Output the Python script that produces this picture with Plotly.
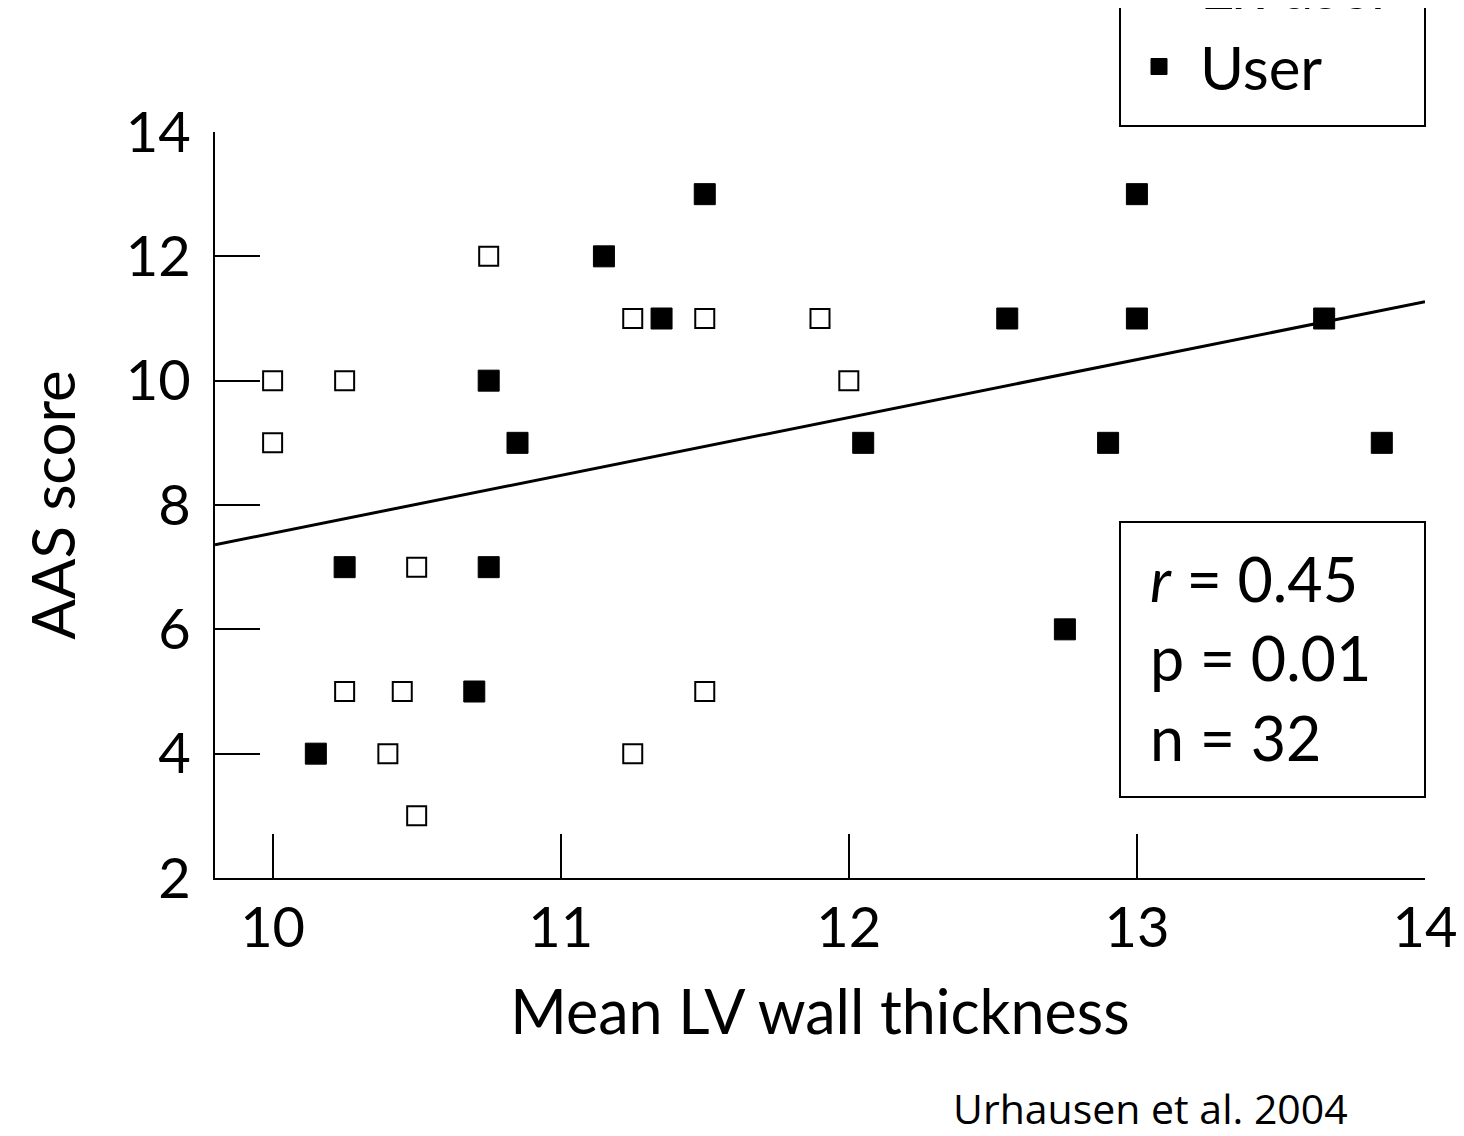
import plotly.graph_objects as go

# Ex user (open squares)
ex_x = [10.0, 10.0, 10.25, 10.75, 11.25, 11.5, 11.9, 12.0, 10.5, 10.25, 10.45, 11.5, 10.4, 11.25, 10.5]
ex_y = [10, 9, 10, 12, 11, 11, 11, 10, 7, 5, 5, 5, 4, 4, 3]

# User (filled squares)
user_x = [11.5, 13.0, 11.15, 11.35, 12.55, 13.0, 13.65, 10.75, 10.85, 12.05, 12.9, 13.85, 10.25, 10.75, 12.75, 10.7, 10.15]
user_y = [13, 13, 12, 11, 11, 11, 11, 10, 9, 9, 9, 9, 7, 7, 6, 5, 4]

# Regression line end points
fit_x = [9.8, 14.0]
fit_y = [7.36, 11.27]

x_ticks = [10, 11, 12, 13, 14]
y_ticks = [2, 4, 6, 8, 10, 12, 14]

stats_text = "<i>r</i> = 0.45<br>p = 0.01<br>n = 32"
caption = "Urhausen et al. 2004"

FONT = "Lato"

# page layout helpers (body has an 8px margin)
OX, OY = 8, 8
W, H = 1456, 1128
PL, PR, PT, PB = 215, 1425, 132, 878


def fx(px):
    return (px - PL) / (PR - PL)


def fy(py):
    return (PB - py) / (PB - PT)


fig = go.Figure()
fig.add_trace(go.Scatter(
    x=fit_x, y=fit_y, mode="lines", line=dict(color="black", width=3),
    showlegend=False, hoverinfo="skip"))
fig.add_trace(go.Scatter(
    x=ex_x, y=ex_y, mode="markers", name="Ex user",
    marker=dict(symbol="square", size=19, color="white",
                line=dict(color="black", width=2))))
fig.add_trace(go.Scatter(
    x=user_x, y=user_y, mode="markers", name="User",
    marker=dict(symbol="square", size=21, color="black",
                line=dict(color="black", width=1))))

fig.update_layout(
    width=W, height=H,
    margin=dict(l=PL - OX, r=W - (PR - OX), t=PT - OY, b=H - (PB - OY), autoexpand=False),
    paper_bgcolor="white", plot_bgcolor="white",
    font=dict(family=FONT, color="black", size=58),
    showlegend=True,
    legend=dict(
        x=fx(1118), xanchor="left", y=fy(112), yanchor="bottom",
        borderwidth=0, bgcolor="rgba(0,0,0,0)",
        font=dict(family=FONT, size=60, color="black"),
        itemwidth=72, traceorder="normal",
    ),
    xaxis=dict(
        range=[9.8, 14.0], tickvals=x_ticks, ticks="inside", ticklen=44,
        tickwidth=2, tickcolor="black", showline=True, linecolor="black",
        linewidth=2, showgrid=False, zeroline=False,
        tickfont=dict(size=56), ticklabelstandoff=0,
        title=dict(text="Mean LV wall thickness", font=dict(size=61), standoff=33),
    ),
    yaxis=dict(
        range=[2, 14], tickvals=y_ticks, ticks="inside", ticklen=45,
        tickwidth=2, tickcolor="black", showline=True, linecolor="black",
        linewidth=2, showgrid=False, zeroline=False,
        tickfont=dict(size=56), ticklabelstandoff=11,
        title=dict(text="AAS score", font=dict(size=60), standoff=31),
    ),
    shapes=[
        dict(type="rect", xref="paper", yref="paper",
             x0=fx(1120), x1=fx(1425), y0=fy(797), y1=fy(522),
             line=dict(color="black", width=2), fillcolor="rgba(0,0,0,0)"),
        dict(type="rect", xref="paper", yref="paper",
             x0=fx(1120), x1=fx(1425), y0=fy(126), y1=fy(-20),
             line=dict(color="black", width=2), fillcolor="rgba(0,0,0,0)"),
    ],
    annotations=[
        dict(text=stats_text, xref="paper", yref="paper",
             x=fx(1148), y=fy(658),
             xanchor="left", yanchor="middle", align="left", showarrow=False,
             font=dict(family=FONT, size=61, color="black")),
        dict(text=caption, xref="paper", yref="paper",
             x=fx(1150), y=fy(1108),
             xanchor="center", yanchor="middle", showarrow=False,
             font=dict(family="Open Sans", size=41, color="black")),
    ],
)

fig.write_html("out.html")
